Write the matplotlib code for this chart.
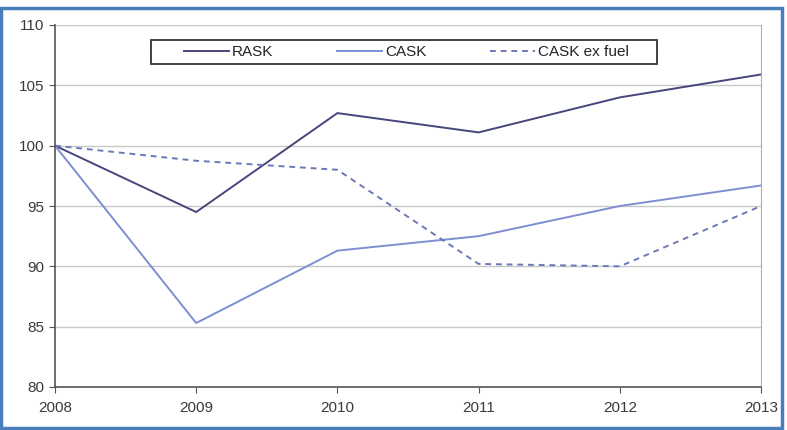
import matplotlib
matplotlib.use("Agg")
import matplotlib.pyplot as plt
from matplotlib.patches import Rectangle

years = [2008, 2009, 2010, 2011, 2012, 2013]
rask = [100, 94.5, 102.7, 101.1, 104.0, 105.9]
cask = [100, 85.3, 91.3, 92.5, 95.0, 96.7]
cask_ex_fuel = [100, 98.75, 98.0, 90.2, 90.0, 95.0]
y_ticks = [80, 85, 90, 95, 100, 105, 110]

plt.rcParams['font.family'] = ['Liberation Sans', 'DejaVu Sans']

W, H = 787, 430
fig = plt.figure(figsize=(W / 100, H / 100), dpi=100)
ax = fig.add_axes([55 / W, 1 - 387 / H, (761 - 55) / W, (387 - 25) / H])

ax.plot(years, rask, color='#46467f', lw=1.4, label='RASK')
ax.plot(years, cask, color='#7d8fd0', lw=1.4, label='CASK')
ax.plot(years, cask_ex_fuel, color='#6b78b8', lw=1.4, ls=(0, (3, 2.5)), label='CASK ex fuel')

ax.set_xlim(2008, 2013)
ax.set_ylim(80, 110)
ax.set_yticks(y_ticks)
ax.set_xticks(years)
ax.grid(axis='y', color='#c8c8c8', lw=1)
ax.set_axisbelow(True)

for s in ['left', 'bottom']:
    ax.spines[s].set_color('#555555')
    ax.spines[s].set_linewidth(1.2)
ax.spines['top'].set_visible(False)
ax.spines['right'].set_color('#b0b0b0')
ax.tick_params(axis='both', direction='out', length=4, color='#555555',
               labelsize=11, labelcolor='#3a3a3a')
ax.tick_params(axis='x', pad=6)

# legend (no frame; frame drawn separately)
fs = 11
leg = fig.legend(loc='center left', bbox_to_anchor=(184 / W, 1 - 52 / H),
                 ncol=3, frameon=False, fontsize=fs,
                 handlelength=2.95, handletextpad=0.2, columnspacing=4.15,
                 borderpad=0, borderaxespad=0)
for t in leg.get_texts():
    t.set_color('#222222')
fig.patches.append(Rectangle((151 / W, 1 - 64 / H), (657 - 151) / W, (64 - 40) / H,
                             transform=fig.transFigure, fill=False,
                             edgecolor='#333333', lw=1.3, zorder=5))

# outer blue frame of the screenshot
fig.patches.append(Rectangle((1 / W, 1 - 428 / H), 781 / W, (428 - 8) / H,
                             transform=fig.transFigure, fill=False,
                             edgecolor='#4a7ebb', lw=2.5))

fig.savefig('out.png', dpi=100)
